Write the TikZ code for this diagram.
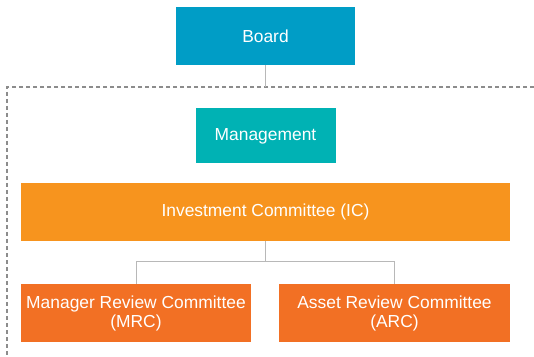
\documentclass[tikz,border=0pt]{standalone}
\usepackage{fontspec}
\setmainfont{Liberation Sans}
\usepackage{xcolor}
\usetikzlibrary{positioning,calc}
\definecolor{boardblue}{RGB}{0,157,198}
\definecolor{mgmtteal}{RGB}{0,178,180}
\definecolor{icorange}{RGB}{247,148,30}
\definecolor{rcorange}{RGB}{242,112,36}
\begin{document}
\begin{tikzpicture}[x=1pt, y=1pt]
% Define styles for the boxes and lines
\tikzstyle{block} = [rectangle, text=white, inner sep=0pt, align=center, minimum height=58pt, font=\fontsize{17.4}{18.6}\selectfont]
\tikzstyle{line} = [draw, black!28, line width=1pt]
\tikzstyle{dashframe} = [draw, black!45, line width=1.4pt, dash pattern=on 4pt off 3pt]

\useasboundingbox (0,0) rectangle (534,356);

% Place nodes
\node [block, fill=boardblue, minimum width=179pt] (board) at (265.5,320) {Board};
\node [block, fill=mgmtteal, minimum width=140pt, minimum height=55pt, below=43pt of board] (mgmt) {Management};
\node [block, fill=icorange, minimum width=489pt, below=19pt of mgmt] (ic) {Investment Committee (IC)};
\node [block, fill=rcorange, minimum width=230pt, below right=43pt and 0pt of ic.south west] (mrc) {Manager Review Committee\\(MRC)};
\node [block, fill=rcorange, minimum width=231pt, below left=43pt and 0pt of ic.south east] (arc) {Asset Review Committee\\(ARC)};

% Dashed frame
\coordinate (corner) at (7,269);
\draw [dashframe] (534,269) -- (corner) -- (7,0);

% Connect nodes
\path [line] (board.south) -- (board.south |- corner);
\coordinate (split) at ($(ic.south)+(0,-20)$);
\path [line] (ic.south) -- (split);
\path [line] (split) -| (mrc.north);
\path [line] (split) -| (arc.north);

\end{tikzpicture}
\end{document}
